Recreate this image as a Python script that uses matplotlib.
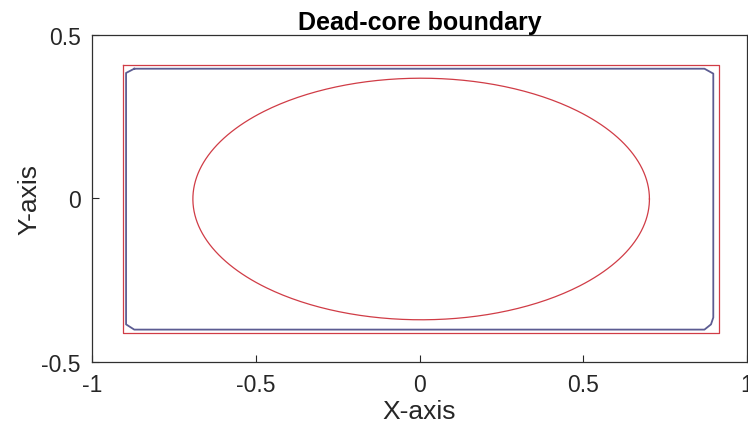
import numpy as np
import matplotlib
matplotlib.use("Agg")
import matplotlib.pyplot as plt

plt.rcParams["font.family"] = ["Liberation Sans", "DejaVu Sans"]

# ── Data ──────────────────────────────────────────────────────────────────────
# outer (red) rectangle
RECT_X = [-0.906, 0.915, 0.915, -0.906, -0.906]
RECT_Y = [0.407, 0.407, -0.412, -0.412, 0.407]

# dead-core boundary (blue), chamfered corners
CORE_X = [-0.871, 0.870, 0.897, 0.897, 0.890, 0.870, -0.871, -0.896, -0.896, -0.871]
CORE_Y = [0.396, 0.396, 0.381, -0.364, -0.385, -0.401, -0.401, -0.385, 0.383, 0.396]

# inner (red) ellipse
ELL_CX, ELL_CY = 0.005, -0.002
ELL_A, ELL_B = 0.697, 0.369

X_TICKS = [-1, -0.5, 0, 0.5, 1]
Y_TICKS = [-0.5, 0, 0.5]

RED = "#d03c46"
BLUE = "#5c5c92"

fig = plt.figure(figsize=(7.48, 4.35), dpi=100)
ax = fig.add_axes([0.123, 0.1655, 0.8757, 0.7525])

t = np.linspace(0, 2 * np.pi, 400)
ax.plot(RECT_X, RECT_Y, color=RED, linewidth=0.9)
ax.plot(CORE_X, CORE_Y, color=BLUE, linewidth=1.3)
ax.plot(ELL_CX + ELL_A * np.cos(t), ELL_CY + ELL_B * np.sin(t), color=RED, linewidth=0.9)

ax.set_xlim(-1, 1)
ax.set_ylim(-0.5, 0.5)
ax.set_xticks(X_TICKS)
ax.set_xticklabels(["-1", "-0.5", "0", "0.5", "1"])
ax.set_yticks(Y_TICKS)
ax.set_yticklabels(["-0.5", "0", "0.5"])
ax.tick_params(direction="in", length=5, width=0.8, labelsize=16.5, colors="#262626")
ax.tick_params(axis="x", pad=8)
ax.tick_params(axis="y", pad=8)
for s in ax.spines.values():
    s.set_color("#303030")
    s.set_linewidth(0.9)

ax.set_xlabel("X-axis", fontsize=19, color="#262626", labelpad=2)
ax.set_ylabel("Y-axis", fontsize=19, color="#262626", labelpad=0)
ax.set_title("Dead-core boundary", fontsize=18, fontweight="bold", pad=4)

fig.savefig("out.png", dpi=100)
